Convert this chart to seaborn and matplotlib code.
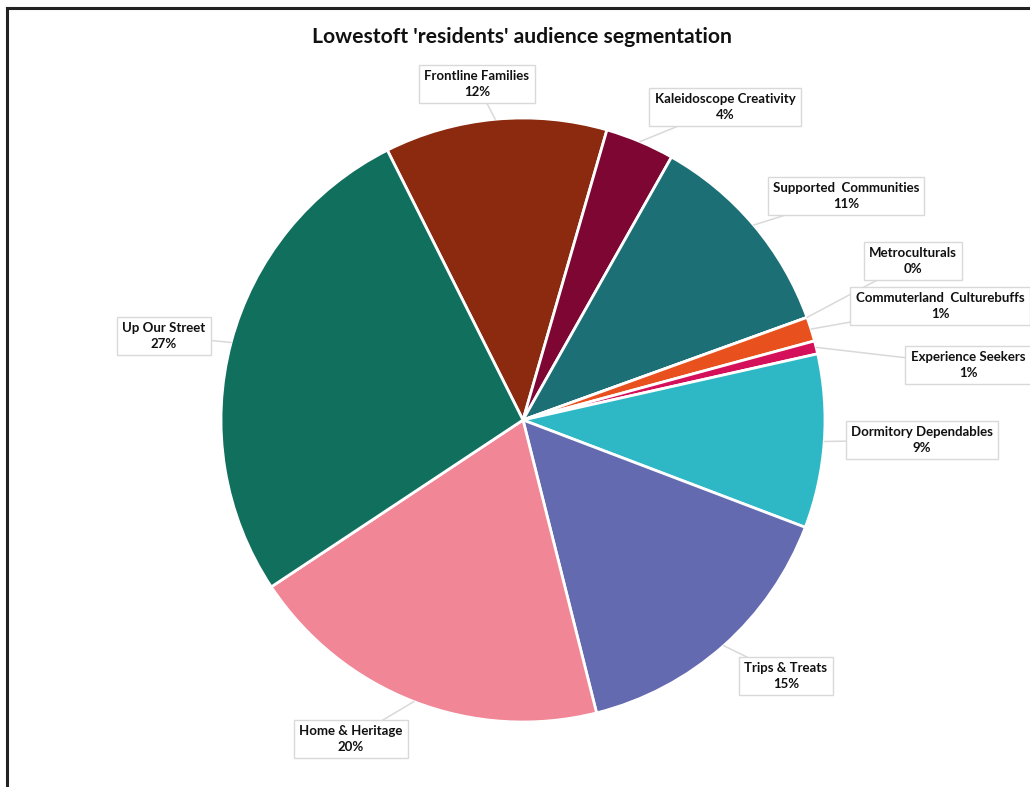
import numpy as np
import matplotlib
matplotlib.use("Agg")
import matplotlib.pyplot as plt
import seaborn as sns

# =====================
# DATA
# =====================
segments = [
    "Frontline Families", "Kaleidoscope Creativity", "Supported  Communities",
    "Metroculturals", "Commuterland  Culturebuffs", "Experience Seekers",
    "Dormitory Dependables", "Trips & Treats", "Home & Heritage", "Up Our Street",
]
share = [11.9, 3.7, 11.3, 0.0, 1.3, 0.7, 9.3, 15.3, 19.6, 26.9]
seg_colors = [
    "#8c2a0f", "#7d0633", "#1d6f76", "#f0a830", "#e8511e",
    "#d5105a", "#2eb8c6", "#646ab0", "#f08696", "#116f5e",
]
title = "Lowestoft 'residents' audience segmentation"

# label box centres (pixel space, y measured from top)
label_pos = [
    (477, 84), (725, 107), (846, 196), (913, 261), (940, 306),
    (968, 365), (922, 440), (786, 676), (351, 739), (164, 336),
]

# =====================
# STYLE
# =====================
sns.set_theme(style="white")
plt.rcParams["font.family"] = ["Lato", "DejaVu Sans"]

W, H = 1030, 787
fig = plt.figure(figsize=(W / 100, H / 100), dpi=100)
ax = fig.add_axes([0, 0, 1, 1])

cx, cy, r = 523, H - 420, 302
start = 90 + 26.7

wedges, _ = ax.pie(
    share, colors=seg_colors, startangle=start, counterclock=False,
    center=(cx, cy), radius=r, frame=True,
    wedgeprops=dict(edgecolor="white", linewidth=2),
)

total = sum(share)
for w, name, val, (lx, ly) in zip(wedges, segments, share, label_pos):
    mid = np.deg2rad((w.theta1 + w.theta2) / 2)
    ax_x = cx + r * np.cos(mid)
    ax_y = cy + r * np.sin(mid)
    ty = H - ly
    ax.plot([ax_x, lx], [ax_y, ty], color="#d9d9d9", lw=1.1, zorder=3)
    ax.text(
        lx, ty, f"{name}\n{val / total * 100:.0f}%",
        ha="center", va="center", multialignment="center",
        fontsize=9.5, fontweight="bold", color="#111111", linespacing=1.4,
        zorder=4,
        bbox=dict(boxstyle="square,pad=0.4", fc="white", ec="#d9d9d9", lw=1),
    )

ax.text(522, H - 37, title, ha="center", va="center",
        fontsize=15.2, fontweight="bold", color="#111111")

# outer chart border (left and top edges visible)
ax.plot([7, 7], [-10, H - 8], color="#222222", lw=2.2, solid_capstyle="projecting")
ax.plot([7, W + 10], [H - 8, H - 8], color="#222222", lw=2.2, solid_capstyle="projecting")

ax.set_xlim(0, W)
ax.set_ylim(0, H)
ax.set_aspect("equal")
ax.axis("off")

fig.savefig("out.png", dpi=100, facecolor="white")
